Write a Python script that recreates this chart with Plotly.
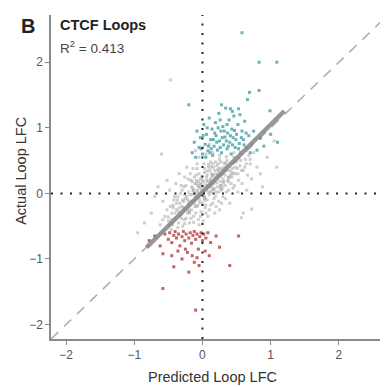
import plotly.graph_objects as go

# ---------------- data ----------------
gray_x = [-0.62,-0.55,-0.50,-0.47,-0.45,-0.42,-0.40,-0.38,-0.36,-0.35,-0.33,-0.31,-0.30,-0.28,-0.27,-0.25,-0.24,-0.22,-0.21,-0.20,
          -0.19,-0.18,-0.17,-0.16,-0.15,-0.14,-0.13,-0.12,-0.11,-0.10,-0.09,-0.08,-0.07,-0.06,-0.05,-0.04,-0.03,-0.02,-0.01,0.00,
          0.01,0.02,0.03,0.04,0.05,0.06,0.07,0.08,0.09,0.10,0.11,0.12,0.13,0.14,0.15,0.16,0.17,0.18,0.19,0.20,
          0.21,0.22,0.23,0.24,0.25,0.26,0.27,0.28,0.29,0.30,0.32,0.33,0.35,0.36,0.38,0.40,0.42,0.44,0.46,0.48,
          0.50,0.53,0.55,0.58,0.60,0.63,0.66,0.70,0.75,0.80,
          -0.75,-0.70,-0.65,-0.58,-0.52,-0.48,-0.44,-0.39,-0.34,-0.29,-0.26,-0.23,-0.14,-0.08,-0.05,0.02,0.08,0.12,0.18,0.25,
          0.30,0.35,0.40,0.45,0.52,0.58,0.65,0.72,0.85,0.95,1.05,0.88,0.60,-0.85,-0.95,
          -0.05,0.05,0.15,-0.10,0.25,0.00,0.10,-0.47,-0.60,1.09,0.70,0.72,0.57,
          -0.45,-0.40,-0.35,-0.30,-0.28,-0.25,-0.22,-0.20,-0.18,-0.15,-0.12,-0.10,-0.08,-0.06,-0.04,-0.02,0.00,0.02,0.04,0.06,
          0.08,0.10,0.12,0.14,0.16,0.18,0.20,0.22,0.24,0.26,0.28,0.30,0.33,0.36,0.40,0.44,0.48,
          -0.38,-0.32,-0.27,-0.21,-0.16,-0.12,-0.09,-0.05,-0.01,0.03,0.07,0.11,0.15,0.19,0.23,0.05,0.10,0.15,0.20,0.28,
          0.34,0.38,0.43,0.47,0.52,0.56,0.62,0.68,-0.58,-0.52,-0.46,-0.41,-0.36,-0.24,-0.17,-0.10,-0.03,0.01,
          -0.33,-0.29,-0.19,-0.13,-0.07,-0.03,0.03,0.09,0.13,0.17,0.21,0.27,0.31,0.37,0.41,0.45,0.51,0.57,0.64,-0.43,
          -0.37,-0.26,-0.15,-0.06,0.06,0.16,0.26,0.34,0.46,0.54,
          -0.34,-0.31,-0.23,-0.20,-0.14,-0.11,-0.07,-0.04,0.00,0.04,0.07,0.12,0.17,0.22,0.27,0.32,0.38,0.43,-0.26,-0.18,
          -0.09,-0.02,0.05,0.13,0.19,0.25,0.31,0.39,-0.43,-0.31,-0.19,-0.08,0.03,0.14,0.24,0.35,-0.50,-0.13,0.09,0.29]
gray_y = [-0.48,-0.35,-0.42,-0.20,-0.30,-0.10,-0.38,-0.25,-0.05,-0.45,-0.15,-0.32,0.05,-0.22,-0.40,-0.08,0.12,-0.30,-0.18,0.02,
          -0.45,-0.12,0.20,-0.25,-0.02,0.08,-0.35,-0.15,0.15,-0.05,0.28,-0.20,0.02,-0.40,0.10,-0.10,0.22,-0.28,0.05,-0.15,
          0.18,-0.05,0.32,-0.22,0.08,0.25,-0.10,0.12,0.40,-0.02,0.20,-0.18,0.30,0.05,0.45,0.15,-0.08,0.35,0.22,0.02,
          0.42,0.10,0.28,-0.12,0.38,0.18,0.48,0.05,0.30,0.22,0.40,0.12,0.35,0.50,0.25,0.45,0.15,0.38,0.55,0.30,
          0.48,0.20,0.42,0.60,0.35,0.52,0.28,0.45,0.62,0.40,
          -0.30,-0.05,0.10,-0.12,0.20,0.05,-0.48,0.15,0.30,-0.50,0.25,0.40,0.38,0.45,-0.48,0.45,-0.35,0.48,-0.30,-0.25,
          -0.05,0.02,-0.15,0.08,0.02,0.15,0.05,0.22,0.30,0.55,0.80,0.10,-0.30,-0.45,-0.60,
          0.55,0.60,0.62,0.65,0.58,0.70,0.75,1.73,0.60,0.40,0.52,-0.24,-0.37,
          -0.40,-0.30,-0.28,-0.20,-0.12,-0.22,-0.10,-0.15,-0.02,-0.12,0.00,-0.08,0.05,-0.02,0.08,0.00,0.10,0.04,0.14,0.06,
          0.18,0.10,0.22,0.16,0.28,0.18,0.30,0.22,0.34,0.26,0.38,0.32,0.28,0.42,0.35,0.48,0.40,
          -0.15,0.00,0.10,0.22,0.10,0.25,0.15,0.30,0.25,0.38,0.28,0.35,0.28,0.48,0.45,-0.30,-0.25,-0.15,-0.20,-0.15,
          -0.08,0.05,0.25,0.12,0.30,0.50,0.40,0.58,-0.40,-0.25,-0.55,-0.05,-0.52,-0.38,-0.38,-0.30,-0.35,-0.42,
          -0.35,-0.10,-0.28,0.04,-0.18,0.15,-0.08,0.02,0.10,0.06,0.16,0.12,0.18,0.20,0.28,0.30,0.38,0.35,0.45,-0.22,
          -0.10,-0.02,0.18,0.18,0.20,0.40,0.08,0.46,0.62,0.55,
          -0.22,-0.38,-0.05,-0.26,0.05,-0.20,0.12,-0.14,0.20,-0.06,0.34,0.02,0.08,0.36,0.12,0.46,0.18,0.32,-0.46,0.30,
          0.20,0.14,-0.18,0.40,-0.04,0.52,0.16,0.24,-0.18,0.12,-0.30,0.38,-0.10,0.26,0.02,0.56,-0.36,-0.44,0.44,0.08]

teal_x = [-0.15,-0.12,-0.10,-0.08,-0.05,-0.03,0.00,0.02,0.04,0.06,0.08,0.10,0.12,0.14,0.15,0.17,0.19,0.20,0.22,0.24,
          0.25,0.27,0.28,0.30,0.31,0.33,0.34,0.36,0.37,0.39,0.40,0.42,0.43,0.45,0.46,0.48,0.50,0.52,0.54,0.56,
          0.58,0.60,0.62,0.65,0.68,0.72,0.75,0.80,0.85,0.90,1.00,1.10,
          0.05,0.09,0.13,0.18,0.21,0.23,0.26,0.29,0.32,0.35,0.38,0.41,0.44,0.47,0.49,0.53,0.57,0.61,0.64,0.70,
          -0.02,0.01,0.07,0.11,0.16,0.26,0.36,0.44,0.28,0.55,
          0.58,0.83,1.09,0.83,0.69,0.66,-0.20,0.41,0.53,0.99]
teal_y = [0.62,0.78,0.55,0.95,0.70,0.85,0.60,1.05,0.75,0.90,0.65,1.15,0.82,0.98,0.58,0.72,1.08,0.88,0.66,1.22,
          0.80,0.95,0.62,1.02,0.74,0.86,1.30,0.68,0.92,1.12,0.78,0.60,0.98,0.85,1.18,0.70,0.90,1.05,0.76,0.62,
          0.95,0.82,1.10,0.70,0.88,0.76,0.95,0.66,0.84,0.72,0.90,0.78,
          0.55,0.72,0.68,0.92,0.78,1.00,0.70,0.85,0.95,0.80,0.72,0.88,0.74,0.96,0.82,0.68,0.85,0.74,0.92,0.62,
          0.68,0.88,1.00,0.62,0.82,1.12,1.05,1.25,1.35,1.20,
          2.45,2.00,2.00,1.57,1.54,1.43,1.35,1.29,1.29,1.26]

red_x = [-0.55,-0.50,-0.48,-0.45,-0.42,-0.40,-0.38,-0.35,-0.33,-0.30,-0.28,-0.26,-0.24,-0.22,-0.20,-0.18,-0.16,-0.14,-0.12,-0.10,
         -0.08,-0.06,-0.04,-0.02,0.00,0.02,0.05,0.08,0.12,0.20,
         -0.70,-0.62,-0.58,-0.45,-0.36,-0.30,-0.25,-0.15,-0.12,-0.08,-0.05,0.04,0.10,0.25,-0.42,-0.20,-0.58,-0.10,0.53,-0.78,0.40]
red_y = [-0.62,-0.70,-0.60,-0.75,-0.64,-0.58,-0.68,-0.62,-0.80,-0.66,-0.58,-0.72,-0.62,-0.90,-0.68,-0.60,-0.76,-0.64,-0.58,-0.70,
         -0.62,-0.85,-0.66,-0.60,-0.72,-0.62,-0.68,-0.60,-0.75,-0.65,
         -0.65,-0.80,-0.92,-0.95,-0.88,-1.00,-0.85,-0.95,-1.05,-0.98,-1.10,-0.88,-0.95,-0.82,-1.12,-1.20,-1.45,-1.78,-0.65,-0.72,-1.10]

fit_slope = 1.03
fit_intercept = 0.02
fit_x = [-0.82, 1.20]
axis_range = [-2.22, 2.72]
tick_vals = [-2, -1, 0, 1, 2]
r2_value = 0.413

# ---------------- figure ----------------
fig = go.Figure()

fig.add_trace(go.Scatter(x=axis_range, y=axis_range, mode="lines",
                         line=dict(color="#b0b0b0", width=1.6, dash="10px,8px"),
                         hoverinfo="skip", showlegend=False))

fig.add_trace(go.Scatter(x=gray_x, y=gray_y, mode="markers",
                         marker=dict(size=3, color="#a0a0a0", opacity=0.5, symbol="square"),
                         showlegend=False))
fig.add_trace(go.Scatter(x=teal_x, y=teal_y, mode="markers",
                         marker=dict(size=3, color="#45a0a6", opacity=0.8, symbol="square"),
                         showlegend=False))
fig.add_trace(go.Scatter(x=red_x, y=red_y, mode="markers",
                         marker=dict(size=3, color="#b04040", opacity=0.8, symbol="square"),
                         showlegend=False))

fit_y = [fit_slope * v + fit_intercept for v in fit_x]
fig.add_trace(go.Scatter(x=fit_x, y=fit_y, mode="lines",
                         line=dict(color="#8c8c8c", width=4.5),
                         opacity=0.9, hoverinfo="skip", showlegend=False))

fig.add_hline(y=0, line=dict(color="#222222", width=2, dash="2px,7.5px"))
fig.add_vline(x=0, line=dict(color="#222222", width=2, dash="2px,7.5px"))

axis_common = dict(range=axis_range, tickvals=tick_vals, showgrid=False, zeroline=False,
                   showline=True, linecolor="#8a8a8a", linewidth=1.5, automargin=False,
                   ticks="outside", ticklen=4, tickcolor="#8a8a8a", tickwidth=1,
                   tickfont=dict(size=12, color="#555555", family="Liberation Sans"))

# The page body has an 8px default margin; the figure is sized so the plot area
# lands where the reference has it.
fig.update_layout(
    width=380, height=379,
    margin=dict(l=43, r=0, t=7, b=48, autoexpand=False),
    paper_bgcolor="white", plot_bgcolor="white",
    font=dict(family="Liberation Sans"),
    xaxis=dict(**axis_common),
    yaxis=dict(**axis_common),
)

title_font = dict(size=14.5, color="#333333", family="Liberation Sans")
fig.add_annotation(text="Predicted Loop LFC", xref="paper", yref="paper", x=0.478, y=-0.117,
                   xanchor="center", yanchor="middle", showarrow=False, font=title_font)
fig.add_annotation(text="Actual Loop LFC", xref="paper", yref="paper", x=-0.089, y=0.519,
                   xanchor="center", yanchor="middle", textangle=-90, showarrow=False, font=title_font)

fig.add_annotation(text="<b>B</b>", xref="paper", yref="paper", x=-0.095, y=0.966,
                   xanchor="left", yanchor="middle", showarrow=False,
                   font=dict(size=20, color="#222222", family="Liberation Sans"))
fig.add_annotation(text="<b>CTCF Loops</b>", xref="paper", yref="paper", x=0.02, y=0.969,
                   xanchor="left", yanchor="middle", showarrow=False,
                   font=dict(size=14.5, color="#222222", family="Liberation Sans"))
fig.add_annotation(text=f"R<sup>2</sup> = {r2_value}", xref="paper", yref="paper", x=0.02, y=0.901,
                   xanchor="left", yanchor="middle", showarrow=False,
                   font=dict(size=13.5, color="#444444", family="Liberation Sans"))

fig.write_html("out.html")
